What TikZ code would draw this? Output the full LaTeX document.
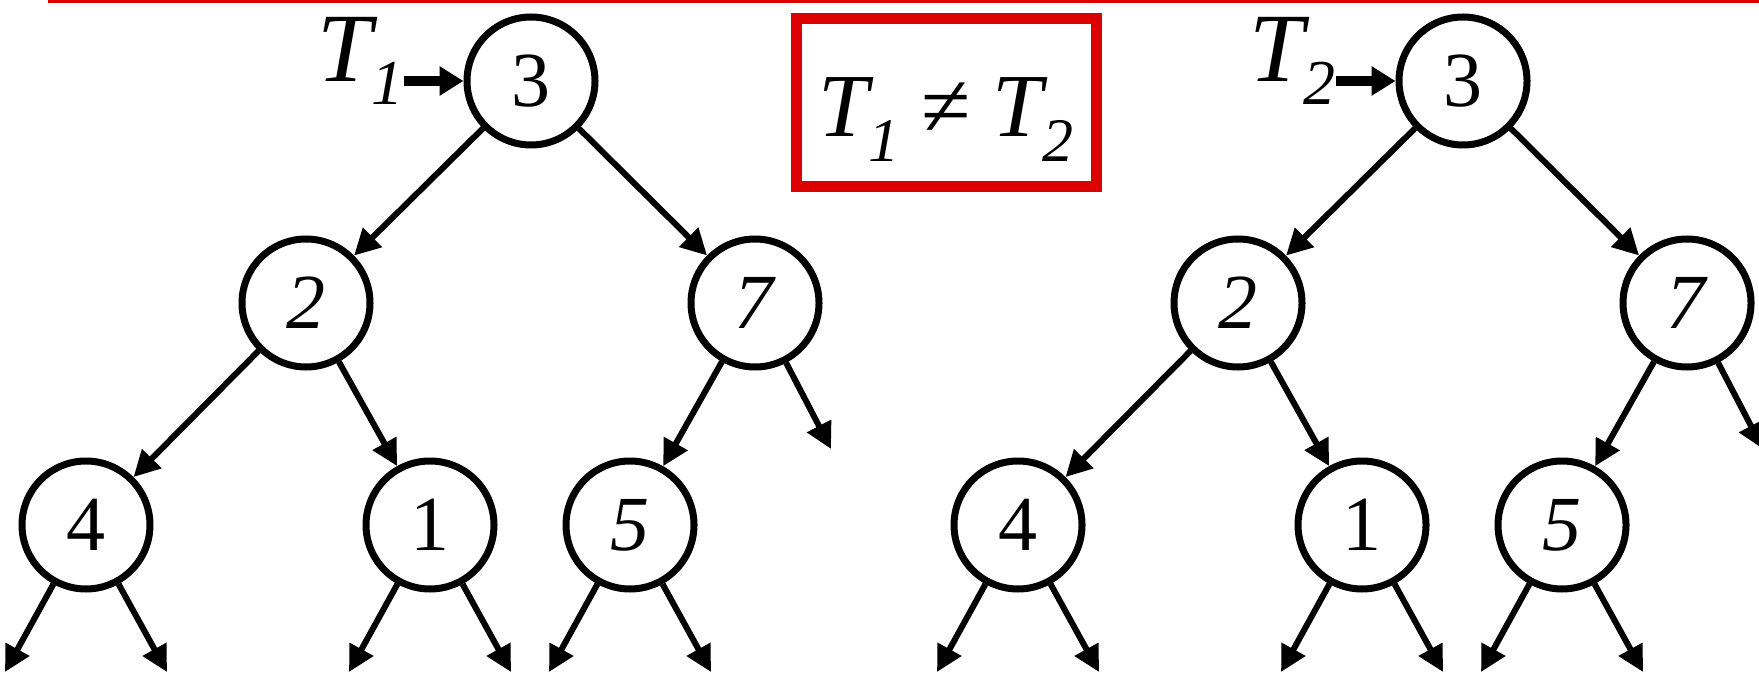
\documentclass[tikz,border=0pt]{standalone}
\usepackage{fontspec}
\setmainfont{Liberation Serif}
\usetikzlibrary{arrows.meta}
\definecolor{slidered}{RGB}{221,0,0}
\tikzset{
  vertex/.style={circle, draw=black, line width=3.5pt, minimum size=64pt,
    inner sep=0pt, font=\fontsize{39}{40}\selectfont},
  edge/.style={line width=3pt, -{Triangle[length=13pt,width=13pt]}},
  rootarrow/.style={line width=5pt, -{Triangle[length=12pt,width=14pt]}},
  treelabel/.style={inner sep=0pt, anchor=base west,
    font=\fontsize{49}{50}\selectfont\itshape},
  eqbox/.style={rectangle, draw=slidered, line width=5.5pt, minimum width=150pt,
    inner xsep=0pt, inner ysep=0pt, text height=59pt, text depth=25pt,
    font=\fontsize{45}{46}\selectfont},
  rule/.style={slidered, line width=1.7pt},
}
% lowered subscript: #1 drop, #2 size, #3 text
\newcommand{\lowsub}[3]{\raisebox{-#1}{\fontsize{#2}{#2}\selectfont #3}}

\begin{document}
\begin{tikzpicture}[x=0.5pt,y=-0.5pt]
\useasboundingbox (0,0) rectangle (1759,673);

% rule across the top
\draw[rule] (48,1.7) -- (1759,1.7);

% the statement in the red frame
\node[eqbox] (neq) at (946,103)
  {\itshape T\lowsub{12.5pt}{31}{1}\hspace{11pt}{\upshape ≠}\hspace{11pt}T\lowsub{12.5pt}{31}{2}};

% the two trees
\foreach \t/\dx in {1/0, 2/932} {
  \begin{scope}[shift={(\dx,0)}]
    \node[vertex] (r\t) at (531,81)  {3};
    \node[vertex] (a\t) at (306,303) {\textit{2}};
    \node[vertex] (b\t) at (755,303) {\textit{7}};
    \node[vertex] (c\t) at (86,525)  {4};
    \node[vertex] (d\t) at (430,525) {1};
    \node[vertex] (e\t) at (630,525) {\textit{5}};

    \node[treelabel] (lab\t) at (317,82) {T\lowsub{11.5pt}{32}{\t}};

    % free ends of the null links
    \coordinate (cL\t) at ([shift={(-81,147)}]c\t.center);
    \coordinate (cR\t) at ([shift={(81,147)}]c\t.center);
    \coordinate (dL\t) at ([shift={(-81,147)}]d\t.center);
    \coordinate (dR\t) at ([shift={(81,147)}]d\t.center);
    \coordinate (eL\t) at ([shift={(-81,147)}]e\t.center);
    \coordinate (eR\t) at ([shift={(81,147)}]e\t.center);
    \coordinate (bR\t) at ([shift={(76,146)}]b\t.center);
  \end{scope}

  \draw[rootarrow] (lab\t.east |- r\t) -- (r\t);

  \draw[edge] (r\t) -- (a\t);
  \draw[edge] (r\t) -- (b\t);
  \draw[edge] (a\t) -- (c\t);
  \draw[edge] (a\t) -- (d\t);
  \draw[edge] (b\t) -- (e\t);
  \draw[edge] (b\t) -- (bR\t);
  \draw[edge] (c\t) -- (cL\t);
  \draw[edge] (c\t) -- (cR\t);
  \draw[edge] (d\t) -- (dL\t);
  \draw[edge] (d\t) -- (dR\t);
  \draw[edge] (e\t) -- (eL\t);
  \draw[edge] (e\t) -- (eR\t);
}
\end{tikzpicture}
\end{document}
